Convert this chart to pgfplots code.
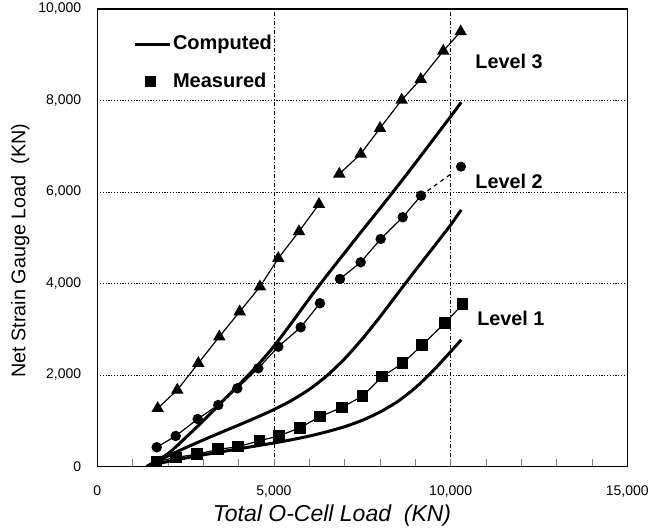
\documentclass[border=0pt]{standalone}
\usepackage{pgfplots}
\pgfplotsset{compat=1.18}
\usepackage{fontspec}
\setmainfont{Liberation Sans}
\setsansfont{Liberation Sans}
\begin{document}
\begin{tikzpicture}
\begin{axis}[
  scale only axis, width=265pt, height=228.75pt,
  xmin=0, xmax=15000, ymin=0, ymax=10000,
  xtick={0,5000,10000,15000}, ytick={0,2000,4000,6000,8000,10000},
  minor x tick num=4,
  xtick pos=lower, ytick pos=left,
  tick align=inside,
  major tick length=3.5pt, minor tick length=3.5pt,
  ytick style={draw=none},
  xmajorgrids, ymajorgrids,
  x grid style={black, line width=0.4pt, dash pattern=on 2pt off 1pt on 0.5pt off 1pt},
  y grid style={black, line width=0.35pt, dash pattern=on 0.6pt off 0.8pt},
  axis line style={black, line width=0.6pt},
  /pgf/number format/assume math mode=true,
  /pgf/number format/1000 sep={,},
  scaled ticks=false,
  ticklabel style={font=\fontsize{7}{8}\selectfont},
  xticklabel style={yshift=-6pt},
  yticklabel style={xshift=-4.5pt},
  xlabel={\itshape Total O-Cell Load\ \ (KN)},
  ylabel={Net Strain Gauge Load\ \ (KN)},
  xlabel style={font=\fontsize{11.5}{13}\selectfont, at={(axis description cs:0.443,-0.107)}, anchor=center},
  ylabel style={font=\fontsize{9.9}{11}\selectfont, at={(axis description cs:-0.1453,0.472)}, anchor=center},
  legend style={draw=none, fill=none, inner sep=0pt, row sep=6pt,
    font=\bfseries\fontsize{10}{11}\selectfont,
    at={(axis description cs:0.0674,0.952)}, anchor=north west,
    nodes={inner xsep=0.8pt}},
  legend cell align=left,
]
\addlegendimage{black, line width=1.5pt, legend image code/.code={\draw[black, line width=1.5pt] (0pt,0pt) -- (17.5pt,0pt);}}
\addlegendentry{Computed}
\addlegendimage{black, legend image code/.code={\fill[black] (5pt,-2.6pt) rectangle (10pt,2.4pt);}}
\addlegendentry{Measured}

% Computed curves
\addplot[black, line width=1.5pt, smooth, tension=0.4] coordinates {
(1400,0) (2000,280) (2500,630) (3000,1000) (3500,1390) (4000,1780) (4500,2180)
(5000,2630) (5500,3140) (6000,3670) (6500,4180) (7000,4670) (7500,5160)
(8000,5640) (8500,6130) (9000,6630) (9500,7140) (10000,7650) (10300,7960)};
\addplot[black, line width=1.5pt, smooth, tension=0.4] coordinates {
(1400,0) (2000,230) (2500,410) (3000,580) (3500,745) (4000,905) (4500,1070)
(5000,1245) (5500,1445) (6000,1685) (6500,1985) (7000,2355) (7500,2790)
(8000,3270) (8500,3780) (9000,4285) (9500,4780) (10000,5280) (10300,5610)};
\addplot[black, line width=1.5pt, smooth, tension=0.4] coordinates {
(1400,0) (2000,110) (2500,185) (3000,255) (3500,320) (4000,385) (4500,450)
(5000,515) (5500,585) (6000,665) (6500,760) (7000,870) (7500,1010)
(8000,1190) (8500,1420) (9000,1720) (9500,2090) (10000,2510) (10300,2770)};

% Level 3 measured
\addplot[black, line width=0.6pt, mark=triangle*, mark size=3pt] coordinates {
(1709,1272) (2264,1672) (2858,2256) (3453,2837) (4030,3384) (4604,3930)
(5122,4551) (5708,5137) (6274,5732)};
\addplot[black, line width=0.6pt, mark=triangle*, mark size=3pt] coordinates {
(6849,6394) (7454,6831) (8000,7393) (8614,8012) (9152,8464) (9792,9083) (10284,9505)};

% Level 2 measured
\addplot[black, line width=0.6pt, mark=*, mark size=2.3pt] coordinates {
(1681,420) (2219,667) (2841,1038) (3424,1344) (3962,1709) (4556,2147)
(5122,2619) (5756,3043) (6302,3568)};
\addplot[black, line width=0.6pt, mark=*, mark size=2.3pt] coordinates {
(6868,4099) (7454,4464) (8020,4973) (8643,5448) (9161,5920)};
\addplot[black, line width=0.6pt, dash pattern=on 2pt off 2pt] coordinates {
(9161,5920) (10000,6390)};
\addplot[black, only marks, mark=*, mark size=2.3pt] coordinates {(10293,6554)};

% Level 1 measured
\addplot[black, line width=0.6pt, mark=square*, mark size=2.6pt] coordinates {
(1681,105) (2227,201) (2830,267) (3424,376) (3990,433) (4585,564) (5142,667)
(5736,848) (6302,1089) (6917,1290) (7505,1537) (8057,1963) (8643,2256)
(9198,2656) (9848,3143) (10341,3546)};

\node[anchor=west, font=\bfseries\fontsize{9.9}{11}\selectfont, inner sep=0pt] at (axis cs:10690,8849) {Level 3};
\node[anchor=west, font=\bfseries\fontsize{9.9}{11}\selectfont, inner sep=0pt] at (axis cs:10690,6225) {Level 2};
\node[anchor=west, font=\bfseries\fontsize{9.9}{11}\selectfont, inner sep=0pt] at (axis cs:10745,3240) {Level 1};

\coordinate (sw) at (rel axis cs:0,0);
\end{axis}
\pgfresetboundingbox
\path (sw) ++(-48.65pt,-31.25pt) rectangle ++(326.5pt,264.5pt);
\end{tikzpicture}
\end{document}
